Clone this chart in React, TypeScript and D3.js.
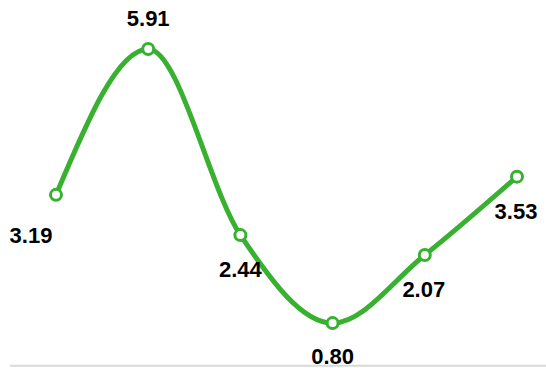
import React from "react";
import * as d3 from "d3";

const categories = ["A", "B", "C", "D", "E", "F"];
const values = [3.19, 5.91, 2.44, 0.8, 2.07, 3.53];
const labels = ["3.19", "5.91", "2.44", "0.80", "2.07", "3.53"];
// label placement relative to the point: [dx, dy]
const labelOffsets: [number, number][] = [
  [-25, 48],
  [0, -23],
  [0, 42],
  [0, 41],
  [-1, 42],
  [-1, 42],
];

const W = 546;
const H = 368;
const GREEN = "#38b030";

export default function App() {
  const x = d3.scalePoint<string>().domain(categories).range([56, 517]);
  const y = d3.scaleLinear().domain([0, 6.5]).range([366, 17.3]);
  const line = d3
    .line<number>()
    .x((_, i) => x(categories[i]) as number)
    .y((d) => y(d))
    .curve(d3.curveMonotoneX);

  return (
    <svg
      width={W}
      height={H}
      style={{ position: "absolute", left: 0, top: 0, display: "block", background: "#fff" }}
    >
      <line x1={10} x2={546} y1={365.7} y2={365.7} stroke="#d9d9d9" strokeWidth={2} />
      <path d={line(values) || ""} fill="none" stroke={GREEN} strokeWidth={5} strokeLinecap="round" />
      {values.map((v, i) => (
        <circle
          key={"c" + i}
          cx={x(categories[i]) as number}
          cy={y(v)}
          r={5.5}
          fill="#fff"
          stroke={GREEN}
          strokeWidth={3}
        />
      ))}
      {values.map((v, i) => (
        <text
          key={"t" + i}
          x={(x(categories[i]) as number) + labelOffsets[i][0]}
          y={y(v) + labelOffsets[i][1]}
          textAnchor="middle"
          fontFamily="'Liberation Sans', Arial, sans-serif"
          fontWeight="bold"
          fontSize={22}
          fill="#000"
        >
          {labels[i]}
        </text>
      ))}
    </svg>
  );
}
